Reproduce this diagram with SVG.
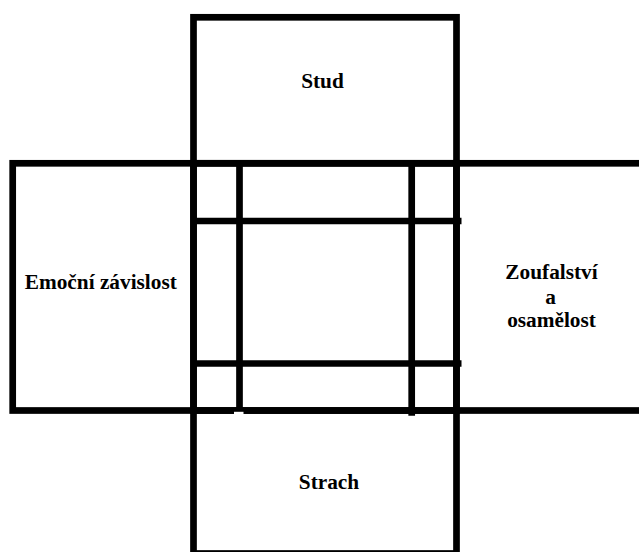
<svg xmlns="http://www.w3.org/2000/svg" width="639" height="552" viewBox="0 0 639 552">
  <style>
    .box { fill: none; stroke: #000; stroke-width: 6.7; }
    .ln { stroke: #000; stroke-width: 6.7; fill: none; }
  </style>
  <rect width="639" height="552" fill="#fff"/>
  <g id="stud">
    <rect class="box" x="193.5" y="17.3" width="263" height="146"/>
    <text x="322.5" y="88" font-family="Liberation Serif" font-weight="bold" font-size="21.3" text-anchor="middle">Stud</text>
  </g>
  <g id="emocni-zavislost">
    <rect class="box" x="12.7" y="163.3" width="180.8" height="247.2"/>
    <text x="100.8" y="288.5" font-family="Liberation Serif" font-weight="bold" font-size="21.3" text-anchor="middle">Emoční závislost</text>
  </g>
  <g id="zoufalstvi-a-osamelost">
    <rect class="box" x="456.5" y="163.3" width="200" height="247.2"/>
    <text x="551.5" y="279" font-family="Liberation Serif" font-weight="bold" font-size="21.3" text-anchor="middle">Zoufalství</text>
    <text x="550.5" y="303.5" font-family="Liberation Serif" font-weight="bold" font-size="21.3" text-anchor="middle">a</text>
    <text x="551.5" y="327" font-family="Liberation Serif" font-weight="bold" font-size="21.3" text-anchor="middle">osamělost</text>
  </g>
  <g id="strach">
    <rect class="box" x="193.5" y="410.5" width="263" height="143"/>
    <text x="329" y="488.5" font-family="Liberation Serif" font-weight="bold" font-size="21.3" text-anchor="middle">Strach</text>
  </g>
  <g id="center">
    <rect class="box" x="193.5" y="163.3" width="263" height="247.2"/>
  </g>
  <g id="connectors">
    <line class="ln" x1="239.5" y1="163.3" x2="239.5" y2="413"/>
    <line class="ln" x1="411.7" y1="163.3" x2="411.7" y2="415.7"/>
    <line class="ln" x1="193.5" y1="221" x2="461.5" y2="221"/>
    <line class="ln" x1="193.5" y1="363.5" x2="461.5" y2="363.5"/>
    <rect x="234" y="411.8" width="9.5" height="2.5" fill="#fff"/>
  </g>
</svg>
